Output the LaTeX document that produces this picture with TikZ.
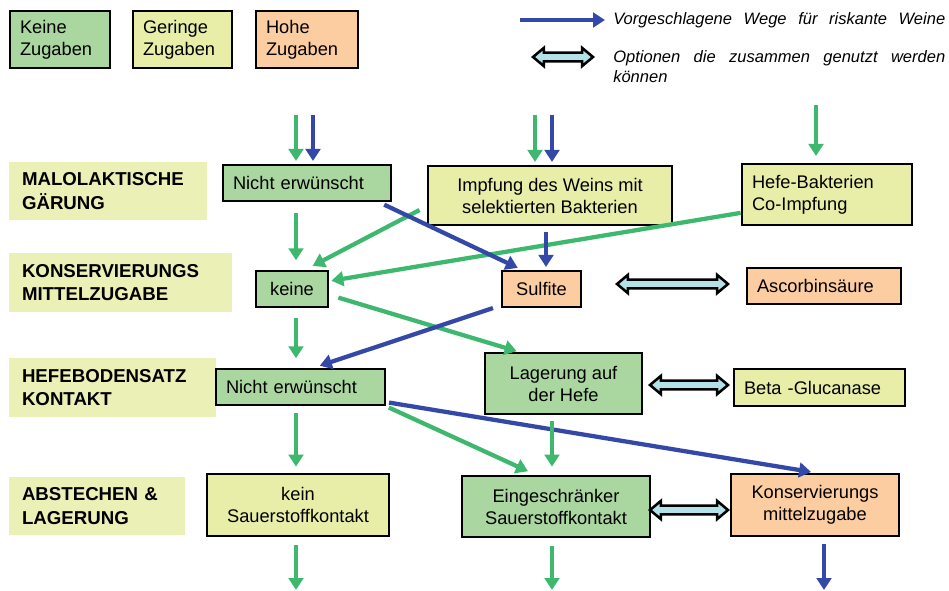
\documentclass[tikz,border=0pt]{standalone}
\usepackage{fontspec}
\setmainfont{Liberation Sans}
\usetikzlibrary{arrows.meta, shapes.arrows}

\definecolor{gfill}{RGB}{170,214,160}
\definecolor{yfill}{RGB}{232,238,168}
\definecolor{ofill}{RGB}{252,205,160}
\definecolor{lfill}{RGB}{234,240,182}
\definecolor{garrow}{RGB}{62,184,110}
\definecolor{barrow}{RGB}{52,72,168}
\definecolor{dfill}{RGB}{178,226,232}

\begin{document}
\begin{tikzpicture}[x=0.75pt, y=-0.75pt, >={Triangle[width=11pt,length=9pt]},
    font=\fontsize{13.7}{16.5}\selectfont]
  \tikzstyle{box} = [draw=black, line width=2.1pt, inner sep=0pt, align=center]
  \tikzstyle{lbox} = [box, inner xsep=7.5pt, align=left]
  \tikzstyle{phase} = [fill=lfill, inner xsep=9.75pt, inner ysep=0pt, align=left,
    font=\fontsize{14}{17.5}\selectfont\bfseries]
  \tikzstyle{garr} = [->, color=garrow, line width=3.2pt]
  \tikzstyle{barr} = [->, color=barrow, line width=3.2pt]
  \tikzstyle{both} = [double arrow, draw=black, fill=dfill, line width=1.9pt, inner sep=0pt,
    inner ysep=2.4pt, text height=0pt, text depth=0pt, minimum width=12.5pt,
    double arrow head extend=3.5pt, double arrow tip angle=80]
  \tikzstyle{legtext} = [anchor=west, inner sep=0pt, align=left,
    font=\fontsize{12.4}{15}\selectfont\itshape]
  \useasboundingbox (0,0) rectangle (949,590);

  \node [lbox, fill=gfill, text width=60pt, minimum height=42.75pt] (legK) at (60,39.5) {Keine\\Zugaben};
  \node [lbox, fill=yfill, text width=59.25pt, minimum height=42.75pt] (legG) at (182.5,39.5) {Geringe\\Zugaben};
  \node [lbox, fill=ofill, text width=61.5pt, minimum height=42.75pt] (legH) at (307,39.5) {Hohe\\Zugaben};
  \node [legtext] (legtxt1) at (613,20) {\makebox[249pt][s]{Vorgeschlagene Wege für riskante Weine}};
  \node [legtext] (legtxt2) at (613,67) {\makebox[249pt][s]{Optionen die zusammen genutzt werden}\\können};
  \coordinate (legsrc) at (520,20);
  \draw [barr, shorten >=6pt] (legsrc) -- (legtxt1.west);
  \node [both, minimum height=45pt] (legdbl) at (563,57) {};

  \node [phase, text width=129pt, minimum height=43.5pt] (mlg) at (108,191) {MALOLAKTISCHE\\GÄRUNG};
  \node [phase, text width=147.75pt, minimum height=44.25pt] (kmz) at (120.5,282.5) {KONSERVIERUNGS\\MITTELZUGABE};
  \node [phase, text width=135.75pt, minimum height=44.25pt] (hbk) at (112.5,387.5) {HEFEBODENSATZ\\KONTAKT};
  \node [phase, text width=112.5pt, minimum height=43.5pt] (abl) at (97,506) {ABSTECHEN \&\\LAGERUNG};

  \node [lbox, fill=gfill, text width=111pt, minimum height=27pt] (ne1) at (307,183) {Nicht erwünscht};
  \node [box, fill=yfill, minimum width=183pt, minimum height=44.25pt] (impf) at (550,195.5) {Impfung des Weins mit\\selektierten Bakterien};
  \node [lbox, fill=yfill, text width=112.5pt, minimum height=45.75pt] (hefe) at (827,194.5) {Hefe-Bakterien\\Co-Impfung};
  \node [box, fill=gfill, minimum width=54pt, minimum height=27pt] (keine) at (292,289) {keine};
  \node [box, fill=ofill, minimum width=59.25pt, minimum height=27pt] (sulf) at (541.5,289) {Sulfite};
  \node [lbox, fill=ofill, text width=100.5pt, minimum height=27pt] (asc) at (824,286) {Ascorbinsäure};
  \node [lbox, fill=gfill, text width=111.75pt, minimum height=27pt] (ne3) at (300.5,387) {Nicht erwünscht};
  \node [box, fill=gfill, minimum width=117.75pt, minimum height=45.75pt] (lag) at (563.5,383.5) {Lagerung auf\\der Hefe};
  \node [lbox, fill=yfill, text width=113.25pt, minimum height=27.75pt] (beta) at (819.5,387.5) {Beta -Glucanase};
  \node [box, fill=yfill, minimum width=136.5pt, minimum height=46.5pt] (kein) at (298,505) {kein\\Sauerstoffkontakt};
  \node [box, fill=gfill, minimum width=141pt, minimum height=45.75pt] (einge) at (556,506.5) {Eingeschränker\\Sauerstoffkontakt};
  \node [box, fill=ofill, minimum width=126pt, minimum height=46.5pt] (kons) at (815,505) {Konservierungs\\mittelzugabe};

  \node [both, minimum height=83.25pt] (dbl1) at (672.5,284) {};
  \node [both, minimum height=58.5pt] (dbl2) at (689,385) {};
  \node [both, minimum height=58.5pt] (dbl3) at (689,510) {};

  \coordinate (colA) at (296,115);
  \coordinate (colAb) at (313,115);
  \coordinate (colB) at (535,115);
  \coordinate (colBb) at (552,115);
  \coordinate (colBs) at (546,0);
  \coordinate (colC) at (816,105);
  \coordinate (endA) at (296,590);
  \coordinate (endB) at (552,590);
  \coordinate (endC) at (824,590);

  \draw [garr, shorten >=2pt] (colA) -- (colA |- ne1.north);
  \draw [barr, shorten >=2pt] (colAb) -- (colAb |- ne1.north);
  \draw [garr, shorten >=2pt] (colB) -- (colB |- impf.north);
  \draw [barr, shorten >=2pt] (colBb) -- (colBb |- impf.north);
  \draw [garr, shorten >=5pt] (colC) -- (colC |- hefe.north);

  \draw [garr, shorten <=8pt, shorten >=7pt] (colA |- ne1.south) -- (colA |- keine.north);
  \draw [garr, shorten <=6pt, shorten >=6pt] (impf.185) -- (keine.55);
  \draw [garr, shorten >=1.5pt] (hefe.192) -- (keine.12);
  \draw [barr, shorten <=4pt, shorten >=3pt] (ne1.-15.5) -- (sulf.136);
  \draw [barr, shorten <=4pt, shorten >=2pt] (impf.south -| colBs) -- (sulf.north -| colBs);

  \draw [garr, shorten <=7pt, shorten >=1pt] (keine.-9.5) -- (lag.145);
  \draw [garr, shorten <=7pt, shorten >=7pt] (colA |- keine.south) -- (colA |- ne3.north);
  \draw [barr, shorten <=6pt, shorten >=4.5pt] (sulf.202) -- (ne3.55);

  \draw [garr, shorten <=5pt, shorten >=4.5pt] (colA |- ne3.south) -- (colA |- kein.north);
  \draw [garr, shorten <=2pt, shorten >=6pt] (ne3.south east) -- (einge.123);
  \draw [barr, shorten <=2pt, shorten >=3pt] (ne3.-10) -- (kons.north);
  \draw [garr, shorten <=4.5pt, shorten >=6pt] (colBb |- lag.south) -- (colBb |- einge.north);

  \draw [garr, shorten <=6pt] (colA |- kein.south) -- (endA);
  \draw [garr, shorten <=6pt] (colBb |- einge.south) -- (endB);
  \draw [barr, shorten <=5pt] (endC |- kons.south) -- (endC);
\end{tikzpicture}
\end{document}
